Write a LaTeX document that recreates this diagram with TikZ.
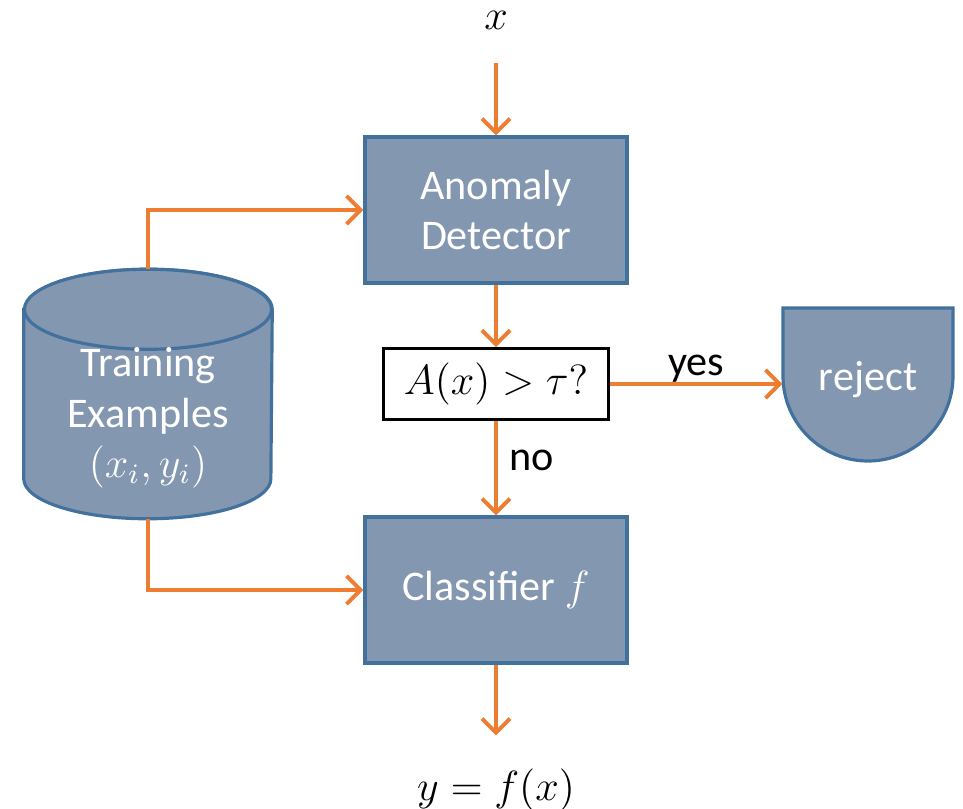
\documentclass[tikz,border=0pt]{standalone}
\usepackage{fontspec}
\setmainfont{Carlito}
\usetikzlibrary{arrows.meta}
\definecolor{boxfill}{HTML}{8497B0}
\definecolor{boxline}{HTML}{41719C}
\definecolor{flowline}{HTML}{ED7D31}
\begin{document}
\begin{tikzpicture}[x=0.01cm, y=-0.01cm, font=\fontsize{12}{14.3}\selectfont,
    shade/.style={draw=boxline, fill=boxfill, line width=0.9pt},
    block/.style={shade, text=white, align=center, minimum width=2.62cm, minimum height=1.46cm},
    check/.style={draw=black, fill=white, line width=0.8pt, minimum width=2.25cm, minimum height=0.71cm},
    flow/.style={draw=flowline, line width=1.1pt, -{Straight Barb[length=4pt,width=8pt]}}]
    \useasboundingbox (0,0) rectangle (963,809);
    % Pipeline boxes
    \node[block] (detector) at (496,210) {Anomaly\\Detector};
    \node[check] (test) at (496,384) {$A(x) > \tau?$};
    \node[block] (classifier) at (496,590) {Classifier $f$};
    % Training data store (cylinder)
    \node[minimum width=2.47cm, minimum height=2.48cm, inner sep=0pt] (train) at (148,394) {};
    \draw[shade] ([yshift=-0.4cm]train.north west) -- ([yshift=0.4cm]train.south west)
        arc[start angle=180, end angle=360, x radius=1.235cm, y radius=0.4cm]
        -- ([yshift=-0.4cm]train.north east)
        arc[start angle=0, end angle=180, x radius=1.235cm, y radius=0.4cm] -- cycle;
    \draw[shade] ([yshift=-0.4cm]train.north) ellipse[x radius=1.235cm, y radius=0.4cm];
    \node[text=white, align=center] (trainlabel) at ([yshift=-0.24cm]train.center) {Training\\Examples\\$(x_i,y_i)$};
    % Reject terminal
    \draw[shade] (783,308) -- (953,308) -- (953,376) arc (0:180:85) -- cycle;
    \node[text=white, minimum width=1.7cm, inner sep=0pt] (reject) at (868,380) {reject};
    \node (xin) at (496,20) {$x$};
    \node (yout) at (496,790) {$y = f(x)$};
    % Connectors
    \draw[flow, shorten <=6pt] (xin) -- (detector);
    \draw[flow] (detector) -- (test);
    \draw[flow] (test.east) -- node[above, yshift=-3.5pt] {yes} (test.east -| reject.west);
    \draw[flow] (test) -- node[right, pos=0.42] {no} (classifier);
    \draw[flow, shorten >=6pt] (classifier) -- (yout);
    \draw[flow] (train.north) |- (detector.west);
    \draw[flow] (train.south) |- (classifier.west);
\end{tikzpicture}
\end{document}
